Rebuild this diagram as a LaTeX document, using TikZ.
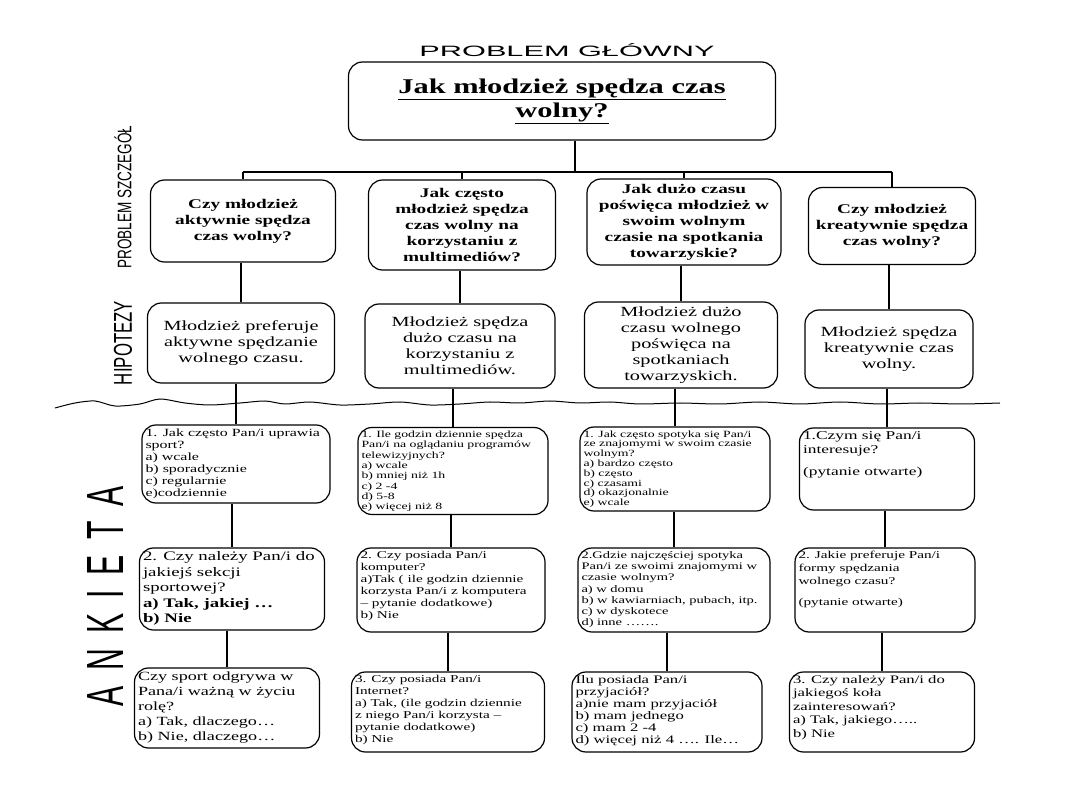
\documentclass[tikz,border=0pt]{standalone}
\usepackage{fontspec}
\usepackage{graphicx}
\setmainfont[FakeStretch=1.45]{Liberation Serif}
\newfontfamily\hand{Liberation Sans}
\newcommand\qtext[5]{\parbox[c][#2][t]{#1}{\fontsize{#3}{#4}\selectfont\raggedright #5}}
\begin{document}
\begin{tikzpicture}[x=1pt,y=-1pt,
  box/.style={draw, line width=1.2pt, rounded corners=14pt, inner sep=4pt, align=center},
  pbox/.style={box, font=\bfseries\fontsize{13.3}{16}\selectfont},
  hbox/.style={box, font=\fontsize{14}{16}\selectfont},
  qbox/.style={box, inner sep=3.5pt},
  link/.style={line width=2.8pt},
  handl/.style={inner sep=0pt}]
\useasboundingbox[fill=white] (0,0) rectangle (1080,810);

% handwritten labels
\node[handl] (tg) at (567,50) {\resizebox{295pt}{13pt}{\hand PROBLEM GŁÓWNY}};
\node[handl, rotate=90] (ts) at (123,197) {\resizebox{143pt}{17pt}{\hand PROBLEM SZCZEGÓŁ}};
\node[handl, rotate=90] (th) at (123,343) {\resizebox{84pt}{18pt}{\hand HIPOTEZY}};
\node[handl, rotate=90] (ta) at (105,596) {\resizebox{220pt}{36pt}{\hand A\hspace{0.5em}N\hspace{0.5em}K\hspace{0.5em}I\hspace{0.5em}E\hspace{0.5em}T\hspace{0.5em}A}};

% main problem
\node[box, minimum width=427pt, minimum height=78pt, font=\bfseries\fontsize{21}{24}\selectfont] (m) at (562,101)
  {\underline{Jak młodzież spędza czas}\\\underline{wolny?}};

% detailed problems
\node[pbox, minimum width=185pt, minimum height=82pt] (p1) at (243,221) {Czy młodzież\\aktywnie spędza\\czas wolny?};
\node[pbox, minimum width=187pt, minimum height=90pt] (p2) at (462,225) {Jak często\\młodzież spędza\\czas wolny na\\korzystaniu z\\multimediów?};
\node[pbox, minimum width=194pt, minimum height=86pt] (p3) at (684,222) {Jak dużo czasu\\poświęca młodzież w\\swoim wolnym\\czasie na spotkania\\towarzyskie?};
\node[pbox, minimum width=167pt, minimum height=77pt] (p4) at (892,226) {Czy młodzież\\kreatywnie spędza\\czas wolny?};

% hypotheses
\node[hbox, minimum width=187pt, minimum height=80pt] (h1) at (241,343) {Młodzież preferuje\\aktywne spędzanie\\wolnego czasu.};
\node[hbox, minimum width=190pt, minimum height=84pt] (h2) at (460,346) {Młodzież spędza\\dużo czasu na\\korzystaniu z\\multimediów.};
\node[hbox, minimum width=193pt, minimum height=86pt] (h3) at (681,345) {Młodzież dużo\\czasu wolnego\\poświęca na\\spotkaniach\\towarzyskich.};
\node[hbox, minimum width=168pt, minimum height=78pt] (h4) at (889,349) {Młodzież spędza\\kreatywnie czas\\wolny.};

% wavy separator
\draw[line width=1pt] plot[smooth] coordinates {(55,408) (75,403) (95,401) (115,406) (140,404) (160,399) (185,403) (210,405) (240,403) (265,401) (285,404) (310,402) (340,405) (370,404) (400,402) (430,405) (460,404) (490,402) (520,403) (550,401) (580,403) (610,402) (640,404) (680,403) (720,404) (760,402) (800,404) (840,402) (880,404) (920,403) (960,404) (1000,403)};

% questionnaire row 1
\node[qbox] (a1) at (236,464) {\qtext{181pt}{71pt}{11}{12}{1. Jak często Pan/i uprawia\\sport?\\a) wcale\\b) sporadycznie\\c) regularnie\\e)codziennie}};
\node[qbox] (a2) at (453,471) {\qtext{183pt}{80pt}{9.5}{10.3}{1. Ile godzin dziennie spędza\\Pan/i na oglądaniu programów\\telewizyjnych?\\a) wcale\\b) mniej niż 1h\\c) 2 -4\\d) 5-8\\e) więcej niż 8}};
\node[qbox] (a3) at (675,469) {\qtext{183pt}{77pt}{9.5}{9.8}{1. Jak często spotyka się Pan/i\\ze znajomymi w swoim czasie\\wolnym?\\a) bardzo często\\b) często\\c) czasami\\d) okazjonalnie\\e) wcale}};
\node[qbox] (a4) at (887,469) {\qtext{168pt}{75pt}{12}{14}{1.Czym się Pan/i\\interesuje?\\[8pt](pytanie otwarte)}};

% questionnaire row 2
\node[qbox] (b1) at (232,589) {\qtext{178pt}{75pt}{13}{15.5}{2. Czy należy Pan/i do\\jakiejś sekcji\\sportowej?\\\textbf{a) Tak, jakiej …}\\\textbf{b) Nie}}};
\node[qbox] (b2) at (451,590) {\qtext{181pt}{77pt}{10.5}{12}{2. Czy posiada Pan/i\\komputer?\\a)Tak ( ile godzin dziennie\\korzysta Pan/i z komputera\\– pytanie dodatkowe)\\b) Nie}};
\node[qbox] (b3) at (674,590) {\qtext{185pt}{77pt}{10}{11.2}{2.Gdzie najczęściej spotyka\\Pan/i ze swoimi znajomymi w\\czasie wolnym?\\a) w domu\\b) w kawiarniach, pubach, itp.\\c) w dyskotece\\d) inne …….}};
\node[qbox] (b4) at (885,590) {\qtext{173pt}{77pt}{10.5}{13}{2. Jakie preferuje Pan/i\\formy spędzania\\wolnego czasu?\\[8pt](pytanie otwarte)}};

% questionnaire row 3
\node[qbox] (c1) at (227,708) {\qtext{178pt}{73pt}{12.5}{15}{Czy sport odgrywa w\\Pana/i ważną w życiu\\rolę?\\a) Tak, dlaczego…\\b) Nie, dlaczego…}};
\node[qbox] (c2) at (448,712) {\qtext{186pt}{73pt}{10.5}{12}{3. Czy posiada Pan/i\\Internet?\\a) Tak, (ile godzin dziennie\\z niego Pan/i  korzysta –\\pytanie dodatkowe)\\b) Nie}};
\node[qbox] (c3) at (667,712) {\qtext{183pt}{73pt}{11.5}{12}{Ilu posiada Pan/i\\przyjaciół?\\a)nie mam przyjaciół\\b) mam jednego\\c) mam 2 -4\\d) więcej niż 4 …. Ile…}};
\node[qbox] (c4) at (882,712) {\qtext{178pt}{73pt}{11.5}{13.5}{3. Czy należy Pan/i do\\jakiegoś koła\\zainteresowań?\\a) Tak, jakiego…..\\b) Nie}};

% connectors
\coordinate (bL) at (243,172);
\coordinate (bR) at (892,172);
\coordinate (bM) at (575,172);
\draw[link] ([xshift=13pt]m.south) -- (bM);
\draw[link] (bL) -- (bR);
\draw[link] (bL) -- (p1.north);
\draw[link] (p2.north |- bL) -- (p2.north);
\draw[link] (p3.north |- bL) -- (p3.north);
\draw[link] (bR) -- (p4.north);
\foreach \u/\v in {p1/h1,p2/h2,p3/h3,p4/h4,h1/a1,h2/a2,h3/a3,h4/a4,a1/b1,a2/b2,a3/b3,a4/b4,b1/c1,b2/c2,b3/c3,b4/c4}
  \draw[link] (\v.north |- \u.south) -- (\v.north);
\end{tikzpicture}
\end{document}
